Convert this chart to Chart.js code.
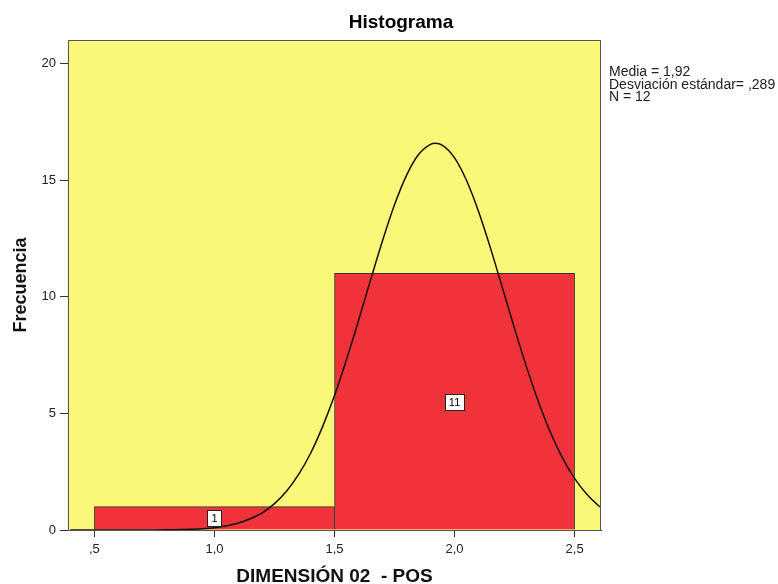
<!DOCTYPE html>
<html>
<head>
<meta charset="utf-8">
<script src="https://cdn.jsdelivr.net/npm/chart.js@4"></script>
<style>
  html, body { margin: 0; padding: 0; background: #fff; }
  #wrap { width: 778px; height: 584px; }
</style>
</head>
<body>
<div id="wrap"><canvas id="grafico" width="778" height="584"></canvas></div>
<script>
const centrosClase = [1.0, 2.0];
const frecuencias = [1, 11];
const etiquetasBarras = ['1', '11'];

// curva normal (media 1,92 / desv 0,289) leida punto a punto
const curvaX = [0.40, 0.50, 0.60, 0.70, 0.80, 0.90, 1.00, 1.10, 1.20, 1.25, 1.30, 1.35, 1.40, 1.45, 1.50,
  1.55, 1.60, 1.65, 1.70, 1.75, 1.80, 1.85, 1.90, 1.92, 1.95, 2.00, 2.05, 2.10, 2.15, 2.20, 2.25, 2.30,
  2.35, 2.40, 2.45, 2.50, 2.55, 2.60, 2.61];
const curvaY = [0.00, 0.00, 0.00, 0.00, 0.01, 0.03, 0.10, 0.30, 0.74, 1.13, 1.66, 2.37, 3.28, 4.42, 5.76,
  7.31, 8.97, 10.71, 12.40, 13.94, 15.20, 16.09, 16.53, 16.57, 16.48, 15.95, 14.98, 13.65, 12.07, 10.36, 8.63, 6.98,
  5.48, 4.17, 3.08, 2.21, 1.54, 1.04, 0.96];

const ticksX = [0.5, 1.0, 1.5, 2.0, 2.5];
const etiquetasX = [',5', '1,0', '1,5', '2,0', '2,5'];
const ticksY = [0, 5, 10, 15, 20];

const textoEstadisticos = ['Media = 1,92', 'Desviación estándar= ,289', 'N = 12'];

const fuente = 'Arial, "Liberation Sans", sans-serif';

const fondoYMarco = {
  id: 'fondoYMarco',
  beforeDraw(chart) {
    const { ctx, chartArea: a } = chart;
    ctx.save();
    ctx.fillStyle = '#FAF878';
    ctx.fillRect(a.left, a.top, a.right - a.left, a.bottom - a.top);
    ctx.restore();
  },
  afterDraw(chart) {
    const { ctx, chartArea: a, scales } = chart;
    ctx.save();
    // marco del area
    ctx.strokeStyle = '#555';
    ctx.lineWidth = 1;
    ctx.strokeRect(a.left + 0.5, a.top + 0.5, a.right - a.left - 1, a.bottom - a.top);

    // etiquetas de las barras
    ctx.font = '11px ' + fuente;
    ctx.textAlign = 'center';
    ctx.textBaseline = 'middle';
    centrosClase.forEach((c, i) => {
      const px = scales.x.getPixelForValue(c);
      const py = scales.y.getPixelForValue(frecuencias[i] / 2);
      const w = Math.round(ctx.measureText(etiquetasBarras[i]).width + 8);
      const h = 16;
      const x0 = Math.round(px - w / 2) + 0.5;
      const y0 = Math.round(py - h / 2) + 0.5;
      ctx.fillStyle = '#fff';
      ctx.fillRect(x0, y0, w, h);
      ctx.strokeStyle = '#222';
      ctx.strokeRect(x0, y0, w, h);
      ctx.fillStyle = '#000';
      ctx.fillText(etiquetasBarras[i], px, py + 1);
    });

    // titulo
    ctx.font = 'bold 19px ' + fuente;
    ctx.fillStyle = '#000';
    ctx.fillText('Histograma', 401, 23);

    // estadisticos
    ctx.font = '14px ' + fuente;
    ctx.textAlign = 'left';
    ctx.fillStyle = '#222';
    textoEstadisticos.forEach((t, i) => {
      ctx.fillText(t, 609, 72.5 + i * 12.5);
    });
    ctx.restore();
  }
};

const config = {
  type: 'bar',
  data: {
    datasets: [
      {
        type: 'line',
        data: curvaX.map((x, i) => ({ x, y: curvaY[i] })),
        borderColor: '#111',
        borderWidth: 1.5,
        pointRadius: 0,
        cubicInterpolationMode: 'monotone',
        fill: false,
        order: 0
      },
      {
        type: 'bar',
        data: centrosClase.map((x, i) => ({ x, y: frecuencias[i] })),
        backgroundColor: '#F0333B',
        borderColor: '#333',
        borderWidth: 1,
        barThickness: 'flex',
        barPercentage: 1,
        categoryPercentage: 1,
        order: 1
      }
    ]
  },
  options: {
    responsive: false,
    animation: false,
    layout: { padding: { top: 40, right: 177, left: 0, bottom: 0 } },
    plugins: {
      legend: { display: false },
      tooltip: { enabled: false },
      title: { display: false }
    },
    scales: {
      x: {
        type: 'linear',
        offset: false,
        min: 0.39,
        max: 2.61,
        afterFit(scale) { scale.height = 54; },
        afterBuildTicks(scale) { scale.ticks = ticksX.map(v => ({ value: v })); },
        ticks: {
          color: '#222',
          font: { size: 13, family: fuente },
          padding: 5,
          maxRotation: 0,
          callback: (v) => etiquetasX[ticksX.indexOf(v)]
        },
        grid: { drawOnChartArea: false, offset: false, tickLength: 7, color: '#333' },
        border: { display: true, color: '#333' },
        title: {
          display: true,
          text: 'DIMENSIÓN 02  - POS',
          color: '#111',
          font: { size: 19, weight: 'bold', family: fuente },
          padding: { top: 0, bottom: -4 }
        }
      },
      y: {
        min: 0,
        max: 21,
        afterFit(scale) { scale.width = 68; },
        afterBuildTicks(scale) { scale.ticks = ticksY.map(v => ({ value: v })); },
        ticks: {
          color: '#222',
          font: { size: 13, family: fuente },
          padding: 4
        },
        grid: { drawOnChartArea: false, tickLength: 8, color: '#333' },
        border: { display: true, color: '#333' },
        title: {
          display: true,
          text: 'Frecuencia',
          color: '#111',
          font: { size: 18, weight: 'bold', family: fuente },
          padding: { top: 10, bottom: 0 }
        }
      }
    }
  },
  plugins: [fondoYMarco]
};

new Chart(document.getElementById('grafico'), config);
</script>
</body>
</html>
